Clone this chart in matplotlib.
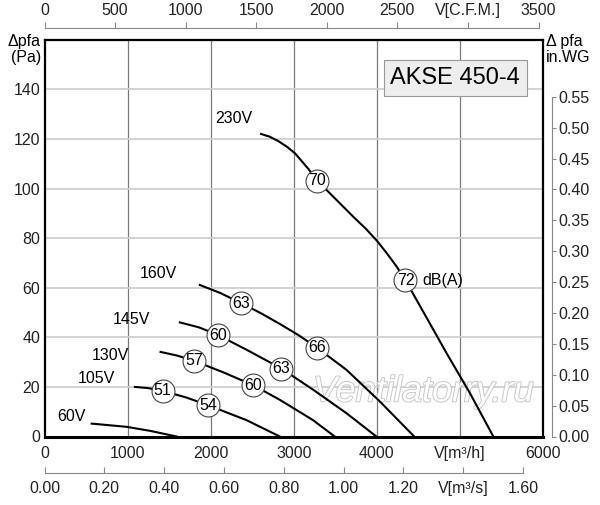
import numpy as np
import matplotlib.pyplot as plt
import matplotlib.patheffects as pe

plt.rcParams['font.family'] = ['Liberation Sans', 'DejaVu Sans']

# -----------------------------
# Fan curves (flow m3/h, static pressure Pa)
# -----------------------------
flow_230 = [2606, 2710, 2815, 2915, 3015, 3176, 3284, 3416, 3717, 3870, 3999, 4120, 4239, 4345, 4841, 5122, 5402]
pres_230 = [122.0, 120.9, 119.1, 116.9, 114.2, 107.9, 103.1, 98.7, 88.6, 83.7, 79.0, 73.9, 68.5, 63.0, 33.5, 17.4, 0.0]

flow_160 = [1870, 2120, 2371, 2600, 2832, 3060, 3280, 3634, 4034, 4450]
pres_160 = [61.1, 57.8, 53.7, 49.8, 45.4, 40.8, 35.8, 26.9, 14.2, 0.0]

flow_145 = [1629, 1860, 2090, 2431, 2852, 3232, 3634, 3994]
pres_145 = [46.0, 44.0, 40.9, 35.0, 27.4, 18.9, 9.4, 0.0]

flow_130 = [1397, 1600, 1801, 2150, 2511, 2832, 3232, 3493]
pres_130 = [34.1, 32.6, 30.5, 25.9, 20.7, 14.8, 6.6, 0.0]

flow_105 = [1088, 1250, 1421, 1700, 1970, 2431, 2832]
pres_105 = [20.0, 19.5, 18.4, 15.8, 12.6, 6.6, 0.0]

flow_60 = [567, 988, 1268, 1590]
pres_60 = [5.2, 3.9, 2.3, 0.0]

curves = [(flow_230, pres_230), (flow_160, pres_160), (flow_145, pres_145),
          (flow_130, pres_130), (flow_105, pres_105), (flow_60, pres_60)]

# voltage labels and where they sit
volt_labels = ['230V', '160V', '145V', '130V', '105V', '60V']
volt_x = [2273, 1370, 1050, 797, 628, 327]
volt_y = [128.3, 65.9, 47.3, 32.7, 23.5, 8.2]

# sound level markers dB(A)
db_values = [70, 72, 63, 66, 60, 63, 57, 60, 51, 54]
db_flow = [3284, 4345, 2371, 3280, 2090, 2852, 1801, 2511, 1421, 1970]
db_pres = [103.1, 63.0, 53.7, 35.8, 40.9, 27.4, 30.5, 20.7, 18.4, 12.6]

# axis ticks
m3h_ticks = [0, 1000, 2000, 3000, 4000, 5000, 6000]
m3h_labels = ['0', '1000', '2000', '3000', '4000', 'V[m³/h]', '6000']
pa_ticks = [0, 20, 40, 60, 80, 100, 120, 140]
cfm_ticks = [0, 500, 1000, 1500, 2000, 2500, 3000, 3500]
cfm_labels = ['0', '500', '1000', '1500', '2000', '2500', 'V[C.F.M.]', '3500']
m3s_ticks = [0.0, 0.2, 0.4, 0.6, 0.8, 1.0, 1.2, 1.4, 1.6]
m3s_labels = ['0.00', '0.20', '0.40', '0.60', '0.80', '1.00', '1.20', 'V[m³/s]', '1.60']
wg_ticks = [0.0, 0.05, 0.10, 0.15, 0.20, 0.25, 0.30, 0.35, 0.40, 0.45, 0.50, 0.55]

CFM = 1.69901      # m3/h per CFM
INWG = 249.09      # Pa per inch WG
FS = 11.5

W, H = 600, 505
x0, x1 = 44.5, 543.0
y_bot, y_top = 436.5, 39.5
ymax = (y_bot - y_top) / 2.48

fig = plt.figure(figsize=(W / 100, H / 100), dpi=100)
ax = fig.add_axes([x0 / W, (H - y_bot) / H, (x1 - x0) / W, (y_bot - y_top) / H])
ax.set_xlim(0, 6000)
ax.set_ylim(0, ymax)

for xv in range(1000, 6000, 1000):
    ax.axvline(xv, color='#7a7a7a', lw=0.9, zorder=1)
for yv in range(20, 160, 20):
    ax.axhline(yv, color='#cfcfcf', lw=1.3, zorder=1)

for f, p in curves:
    ax.plot(f, p, color='black', lw=1.5, zorder=3, solid_joinstyle='round')

for lab, xv, yv in zip(volt_labels, volt_x, volt_y):
    ax.text(xv, yv, lab, fontsize=FS, ha='center', va='center', zorder=4)

ax.plot(db_flow, db_pres, 'o', ms=16.5, mfc='white', mec='#444444', mew=0.8, zorder=4)
for v, xv, yv in zip(db_values, db_flow, db_pres):
    ax.text(xv, yv, str(v), fontsize=FS, ha='center', va='center', zorder=5)
ax.text(4545, 63.0, 'dB(A)', fontsize=FS, ha='left', va='center', zorder=5)

ax.text(4560, 18.0, 'Ventilatorry.ru', fontsize=26, style='italic', ha='center',
        va='center', color='white', zorder=2,
        path_effects=[pe.Stroke(linewidth=1.3, foreground='#c4c4c4'), pe.Normal()])

ax.text(0.8235, 0.903, 'AKSE 450-4', transform=ax.transAxes, fontsize=17,
        ha='center', va='center', zorder=6,
        bbox=dict(boxstyle='square,pad=0.28', fc='#eeeeee', ec='#999999', lw=0.8))

ax.set_xticks(m3h_ticks)
ax.set_xticklabels(m3h_labels)
ax.set_yticks(pa_ticks)
ax.tick_params(length=0, labelsize=FS, colors='#222222')
ax.tick_params(axis='x', pad=6.5)
ax.tick_params(axis='y', pad=3)
for s in ax.spines.values():
    s.set_linewidth(1.6)
ax.spines['bottom'].set_linewidth(2.2)

fig.text(41 / W, 1 - 34 / H, 'Δpfa\n(Pa)', fontsize=FS, ha='right', va='top',
         linespacing=1.1)
fig.text(546 / W, 1 - 34 / H, 'Δ pfa\nin.WG', fontsize=FS, ha='left', va='top',
         linespacing=1.1)

# top CFM axis
ax_cfm = fig.add_axes([x0 / W, (H - 28) / H - 0.001, (x1 - x0) / W, 0.001])
ax_cfm.set_xlim(0, 6000 / CFM)
ax_cfm.set_yticks([])
for k in ['left', 'right', 'bottom']:
    ax_cfm.spines[k].set_visible(False)
ax_cfm.spines['top'].set_bounds(0, 3500)
ax_cfm.spines['top'].set_color('#888888')
ax_cfm.xaxis.set_ticks_position('top')
ax_cfm.set_xticks(cfm_ticks)
ax_cfm.set_xticklabels(cfm_labels)
ax_cfm.tick_params(axis='x', direction='out', length=4, width=0.8, color='#888888',
                   labelsize=FS, labelcolor='#222222', pad=3)
ax_cfm.patch.set_visible(False)

# bottom m3/s axis
ax_m3s = fig.add_axes([x0 / W, (H - 473) / H, (x1 - x0) / W, 0.001])
ax_m3s.set_xlim(0, 6000 / 3600)
ax_m3s.set_yticks([])
for k in ['left', 'right', 'top']:
    ax_m3s.spines[k].set_visible(False)
ax_m3s.spines['bottom'].set_bounds(0, 1.6)
ax_m3s.spines['bottom'].set_color('#888888')
ax_m3s.set_xticks(m3s_ticks)
ax_m3s.set_xticklabels(m3s_labels)
ax_m3s.tick_params(axis='x', direction='in', length=4, width=0.8, color='#888888',
                   labelsize=FS, labelcolor='#222222', pad=6)
ax_m3s.patch.set_visible(False)

# right in.WG axis
rx = 552
ax_wg = fig.add_axes([(rx - 1) / W, (H - y_bot) / H, 1 / W, (y_bot - y_top) / H])
ax_wg.set_ylim(0, ymax / INWG)
ax_wg.set_xticks([])
for k in ['left', 'top', 'bottom']:
    ax_wg.spines[k].set_visible(False)
ax_wg.spines['right'].set_bounds(0, 0.55)
ax_wg.spines['right'].set_color('#888888')
ax_wg.yaxis.set_ticks_position('right')
ax_wg.set_yticks(wg_ticks)
ax_wg.set_yticklabels(['%.2f' % v for v in wg_ticks])
ax_wg.tick_params(axis='y', direction='out', length=3, width=0.8, color='#888888',
                  labelsize=FS, labelcolor='#222222', pad=1.5)
ax_wg.patch.set_visible(False)

fig.savefig('out.png', dpi=100)
